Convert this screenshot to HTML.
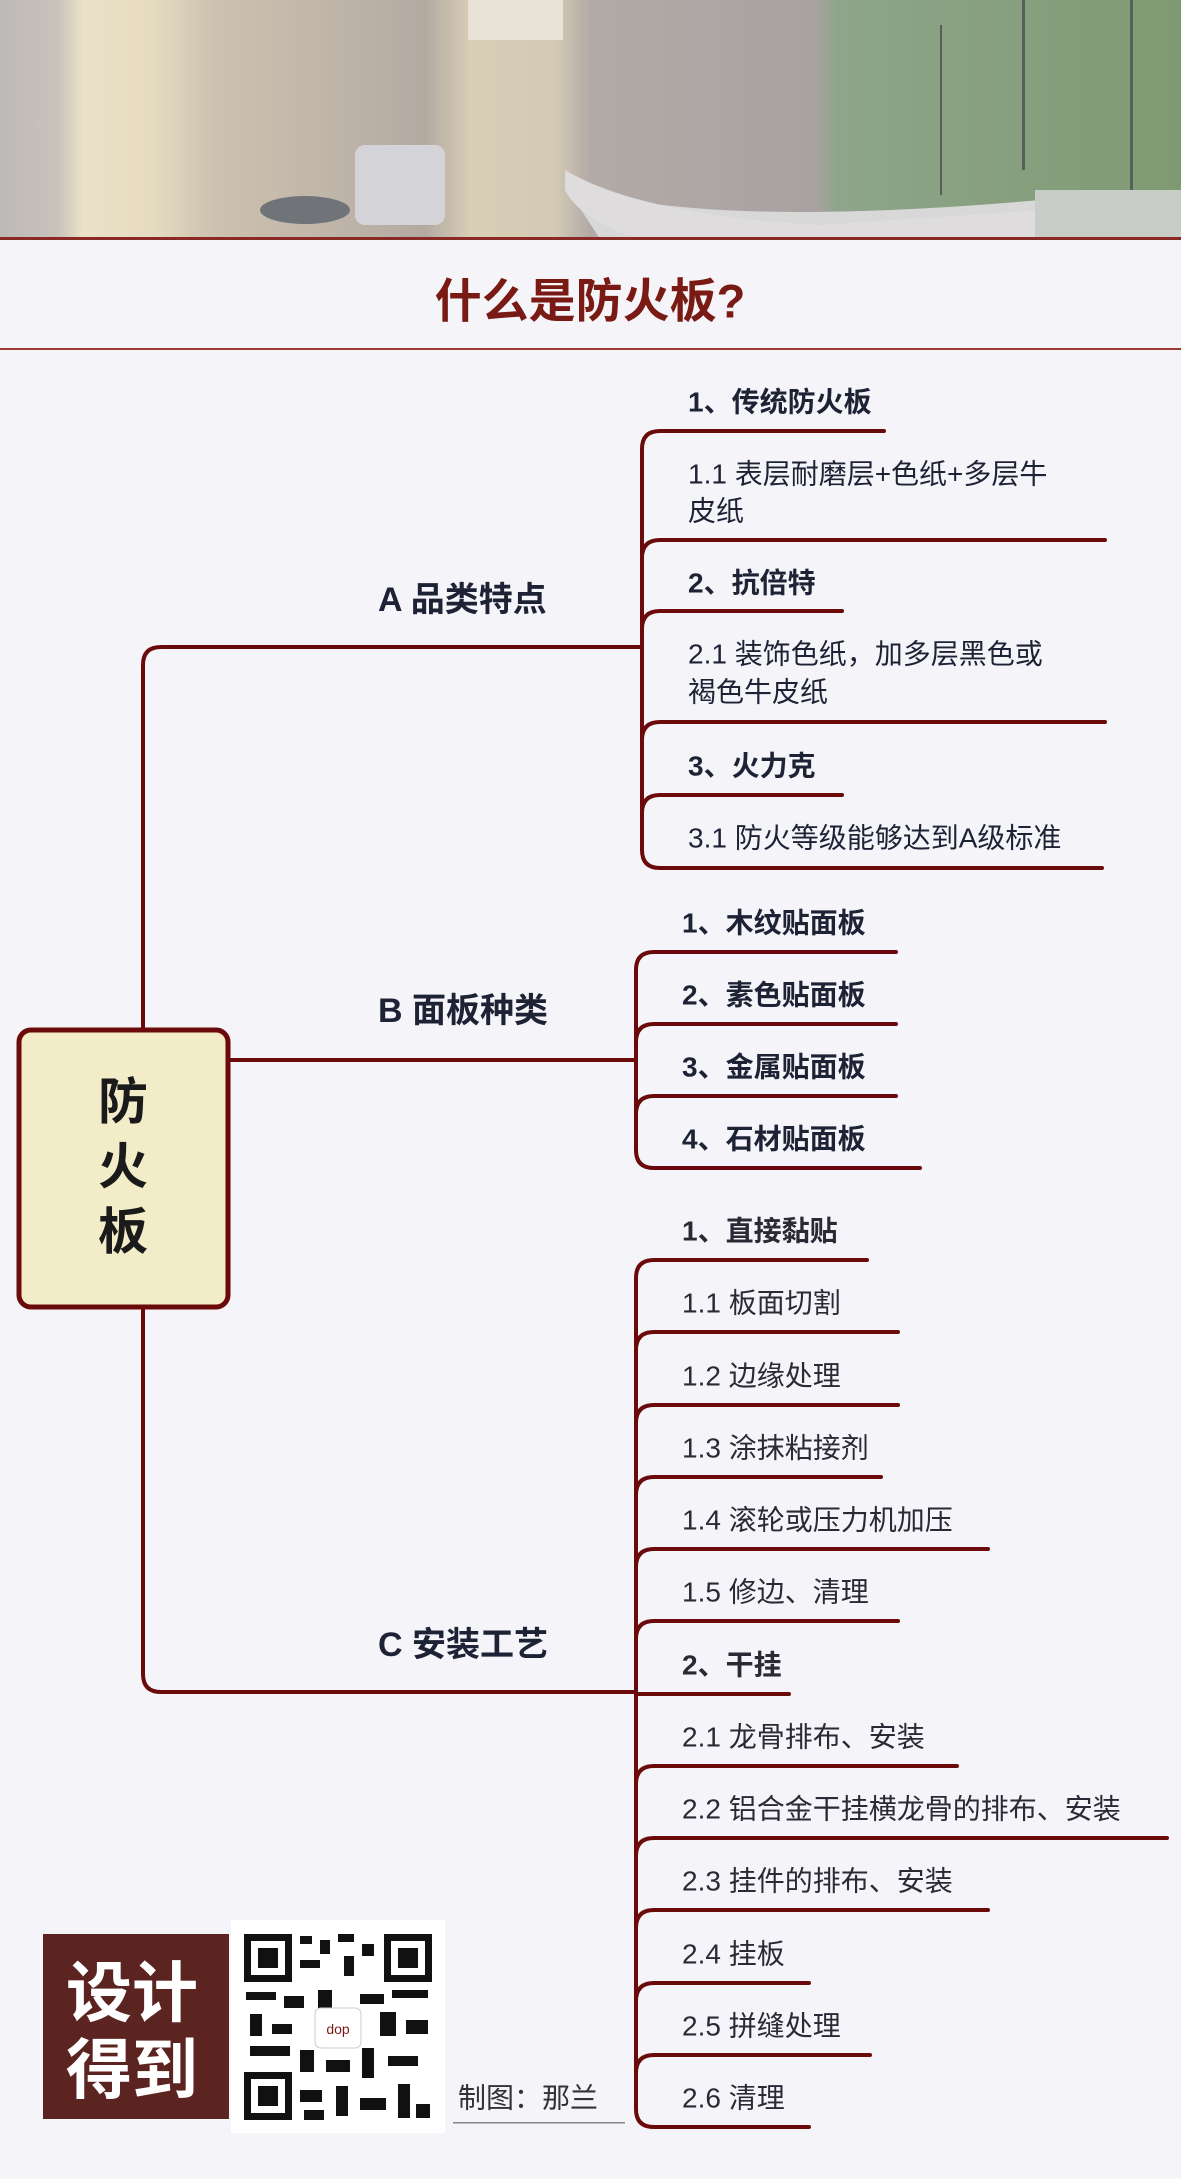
<!DOCTYPE html>
<html><head><meta charset="utf-8"><style>
html,body{margin:0;padding:0;background:#f4f4f9;}
svg{display:block;}
text{font-family:"Liberation Sans","Noto Sans CJK SC",sans-serif;}
</style></head><body>
<svg width="1181" height="2179" viewBox="0 0 1181 2179" xmlns="http://www.w3.org/2000/svg">
<defs>
<linearGradient id="g1" x1="0" y1="0" x2="1" y2="0">
<stop offset="0" stop-color="#bdb9b8"/><stop offset="0.05" stop-color="#c9c3bb"/><stop offset="0.07" stop-color="#ebe1c8"/><stop offset="0.13" stop-color="#e6dbc0"/><stop offset="0.18" stop-color="#cdc2b0"/><stop offset="0.36" stop-color="#b4aaa2"/><stop offset="0.40" stop-color="#d9cfb6"/><stop offset="0.47" stop-color="#d3c9b5"/><stop offset="0.50" stop-color="#b2aaa6"/><stop offset="0.69" stop-color="#a9a2a2"/><stop offset="0.71" stop-color="#8ea58a"/><stop offset="1" stop-color="#7f9a72"/>
</linearGradient>
</defs>
<rect width="1181" height="2179" fill="#f4f4f9"/>
<rect x="0" y="0" width="1181" height="239" fill="url(#g1)"/>
<rect x="468" y="0" width="95" height="40" fill="#e9e2d6"/>
<path d="M565 185 Q700 230 1040 200 L1040 239 L600 239 Z" fill="#d8d8d8"/>
<path d="M565 170 Q640 215 820 225 L1040 210 L1040 239 L640 239 Q580 220 565 190 Z" fill="#dedcdc"/>
<rect x="1035" y="190" width="146" height="49" fill="#c7cdc6"/>
<rect x="1130" y="0" width="3" height="190" fill="#55605a"/>
<rect x="1022" y="0" width="3" height="170" fill="#55605a"/>
<rect x="940" y="25" width="2" height="170" fill="#55605a"/>
<ellipse cx="305" cy="210" rx="45" ry="14" fill="#707478"/>
<rect x="355" y="145" width="90" height="80" rx="10" fill="#d4d4d8"/>
<rect x="0" y="237" width="1181" height="3" fill="#8a2a24"/>
<text x="590" y="301" text-anchor="middle" dominant-baseline="central" font-size="47" font-weight="bold" fill="#7a1a14">什么是防火板?</text>
<rect x="0" y="348" width="1181" height="2" fill="#9a3a34"/>
<g fill="none" stroke="#6b0a0a" stroke-width="4" stroke-linecap="round">
<path d="M143 1030 L143 665 Q143 647 161 647 L642 647"/>
<path d="M143 1307 L143 1674 Q143 1692 161 1692 L636 1692"/>
<path d="M228 1060 L636 1060"/>
<path d="M642 850 L642 449 Q642 431 660 431 L884 431"/>
<path d="M642 850 Q642 868 660 868 L1102 868"/>
<path d="M642 558 Q642 540 660 540 L1105 540"/>
<path d="M642 629 Q642 611 660 611 L842 611"/>
<path d="M642 740 Q642 722 660 722 L1105 722"/>
<path d="M642 813 Q642 795 660 795 L842 795"/>
<path d="M636 1150 L636 970 Q636 952 654 952 L896 952"/>
<path d="M636 1042 Q636 1024 654 1024 L896 1024"/>
<path d="M636 1114 Q636 1096 654 1096 L896 1096"/>
<path d="M636 1150 Q636 1168 654 1168 L920 1168"/>
<path d="M636 2109 L636 1278 Q636 1260 654 1260 L867 1260"/>
<path d="M636 2109 Q636 2127 654 2127 L809 2127"/>
<path d="M636 1350 Q636 1332 654 1332 L898 1332"/>
<path d="M636 1423 Q636 1405 654 1405 L898 1405"/>
<path d="M636 1495 Q636 1477 654 1477 L881 1477"/>
<path d="M636 1567 Q636 1549 654 1549 L988 1549"/>
<path d="M636 1639 Q636 1621 654 1621 L898 1621"/>
<path d="M636 1694 L789 1694"/>
<path d="M636 1784 Q636 1766 654 1766 L957 1766"/>
<path d="M636 1856 Q636 1838 654 1838 L1167 1838"/>
<path d="M636 1928 Q636 1910 654 1910 L988 1910"/>
<path d="M636 2001 Q636 1983 654 1983 L809 1983"/>
<path d="M636 2073 Q636 2055 654 2055 L870 2055"/>
</g>
<rect x="19" y="1030" width="209" height="277" rx="12" fill="#f3ecc8" stroke="#6b0a0a" stroke-width="5"/>
<g font-size="50" font-weight="bold" fill="#1a1a1a" text-anchor="middle" dominant-baseline="central">
<text x="123" y="1102">防</text><text x="123" y="1167">火</text><text x="123" y="1232">板</text>
</g>
<g font-size="34" font-weight="bold" fill="#1e2235" dominant-baseline="central">
<text x="378" y="600">A 品类特点</text>
<text x="378" y="1011">B 面板种类</text>
<text x="378" y="1645">C 安装工艺</text>
</g>
<g font-size="28" fill="#1e2235" dominant-baseline="central">
<text x="688" y="402" font-weight="bold">1、传统防火板</text>
<text x="688" y="474">1.1 表层耐磨层+色纸+多层牛</text>
<text x="688" y="511">皮纸</text>
<text x="688" y="583" font-weight="bold">2、抗倍特</text>
<text x="688" y="654">2.1 装饰色纸，加多层黑色或</text>
<text x="688" y="692">褐色牛皮纸</text>
<text x="688" y="766" font-weight="bold">3、火力克</text>
<text x="688" y="838">3.1 防火等级能够达到A级标准</text>
</g>
<g font-size="28" fill="#1e2235" font-weight="bold" dominant-baseline="central">
<text x="682" y="923">1、木纹贴面板</text>
<text x="682" y="995">2、素色贴面板</text>
<text x="682" y="1067">3、金属贴面板</text>
<text x="682" y="1139">4、石材贴面板</text>
</g>
<g font-size="28" fill="#2a2a35" dominant-baseline="central">
<text x="682" y="1231" font-weight="bold">1、直接黏贴</text>
<text x="682" y="1303">1.1 板面切割</text>
<text x="682" y="1376">1.2 边缘处理</text>
<text x="682" y="1448">1.3 涂抹粘接剂</text>
<text x="682" y="1520">1.4 滚轮或压力机加压</text>
<text x="682" y="1592">1.5 修边、清理</text>
<text x="682" y="1665" font-weight="bold">2、干挂</text>
<text x="682" y="1737">2.1 龙骨排布、安装</text>
<text x="682" y="1809">2.2 铝合金干挂横龙骨的排布、安装</text>
<text x="682" y="1881">2.3 挂件的排布、安装</text>
<text x="682" y="1954">2.4 挂板</text>
<text x="682" y="2026">2.5 拼缝处理</text>
<text x="682" y="2098">2.6 清理</text>
</g>
<rect x="43" y="1934" width="186" height="185" fill="#5c2420"/>
<g font-size="66" font-weight="bold" fill="#ffffff" dominant-baseline="central">
<text x="66" y="1993">设计</text><text x="66" y="2070">得到</text>
</g>
<rect x="231" y="1920" width="214" height="213" fill="#ffffff"/>
<g fill="#111">
<rect x="244" y="1934" width="48" height="48"/><rect x="251" y="1941" width="34" height="34" fill="#fff"/><rect x="258" y="1948" width="20" height="20"/>
<rect x="384" y="1934" width="48" height="48"/><rect x="391" y="1941" width="34" height="34" fill="#fff"/><rect x="398" y="1948" width="20" height="20"/>
<rect x="244" y="2072" width="48" height="48"/><rect x="251" y="2079" width="34" height="34" fill="#fff"/><rect x="258" y="2086" width="20" height="20"/>
<rect x="300" y="1936" width="12" height="8"/><rect x="320" y="1940" width="10" height="14"/><rect x="338" y="1934" width="16" height="8"/><rect x="362" y="1944" width="12" height="12"/>
<rect x="300" y="1960" width="20" height="8"/><rect x="344" y="1956" width="10" height="20"/><rect x="246" y="1992" width="30" height="8"/><rect x="284" y="1996" width="20" height="12"/>
<rect x="318" y="1990" width="14" height="18"/><rect x="360" y="1994" width="24" height="10"/><rect x="392" y="1990" width="36" height="8"/><rect x="250" y="2014" width="12" height="22"/>
<rect x="272" y="2024" width="20" height="10"/><rect x="380" y="2012" width="16" height="24"/><rect x="406" y="2020" width="22" height="14"/><rect x="250" y="2046" width="40" height="10"/>
<rect x="300" y="2050" width="14" height="22"/><rect x="326" y="2060" width="24" height="12"/><rect x="362" y="2048" width="12" height="30"/><rect x="388" y="2056" width="30" height="10"/>
<rect x="300" y="2090" width="22" height="12"/><rect x="336" y="2086" width="12" height="30"/><rect x="360" y="2098" width="26" height="12"/><rect x="398" y="2084" width="12" height="34"/>
<rect x="304" y="2110" width="20" height="10"/><rect x="416" y="2104" width="14" height="14"/>
</g>
<rect x="315" y="2008" width="46" height="40" rx="6" fill="#fff" stroke="#ccc"/>
<text x="338" y="2029" text-anchor="middle" dominant-baseline="central" font-size="14" fill="#7a1a14">dop</text>
<text x="458" y="2098" font-size="28" fill="#333" dominant-baseline="central">制图：那兰</text>
<rect x="453" y="2122" width="172" height="1.5" fill="#888"/>
</svg>
</body></html>
